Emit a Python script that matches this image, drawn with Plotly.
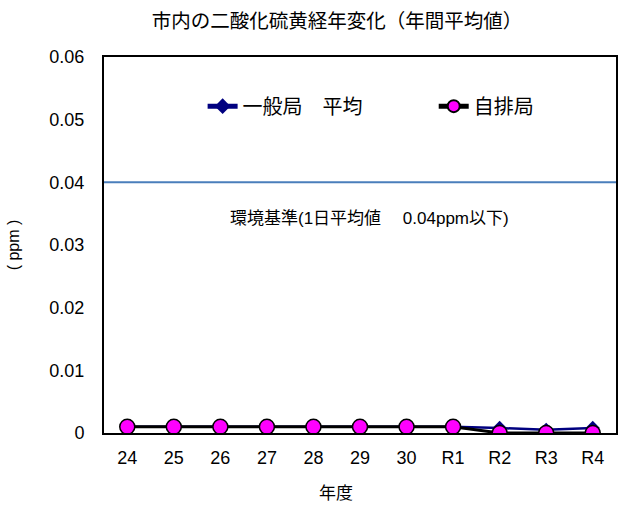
import plotly.graph_objects as go

# 年度ラベル
years = ["24", "25", "26", "27", "28", "29", "30", "R1", "R2", "R3", "R4"]
# 一般局 平均 (ppm)
general_avg = [0.001, 0.001, 0.001, 0.001, 0.001, 0.001, 0.001, 0.001, 0.0008, 0.0005, 0.0008]
# 自排局 (ppm)
roadside = [0.001, 0.001, 0.001, 0.001, 0.001, 0.001, 0.001, 0.001, 0.0, 0.0, 0.0]
# 環境基準
standard = 0.04

FONT = "Liberation Sans, Arial, Noto Sans CJK JP, sans-serif"

# plot area in pixels: x 104..618, y 58..433
PL, PW, PB, PH = 104, 514, 433, 375


def px_x(px):
    return (px - PL) / PW


def px_y(py):
    return (PB - py) / PH


fig = go.Figure()
fig.add_trace(go.Scatter(
    x=years, y=general_avg, name="一般局\u3000平均", mode="lines+markers",
    line=dict(color="#000080", width=2.5),
    marker=dict(symbol="diamond", size=11, color="#000080"),
    legend="legend",
))
fig.add_trace(go.Scatter(
    x=years, y=roadside, name="自排局", mode="lines+markers",
    line=dict(color="#000000", width=3),
    marker=dict(symbol="circle", size=15, color="#FF00FF",
                line=dict(color="#000000", width=1.5)),
    legend="legend2",
))

# 環境基準線
fig.add_shape(type="line", xref="paper", x0=0, x1=1, yref="y", y0=standard, y1=standard,
              line=dict(color="#4A7EBB", width=2), layer="below")

fig.add_annotation(x=px_x(371), xref="paper", y=0.0343, yref="y",
                   text="環境基準(1日平均値\u3000 0.04ppm以下)", showarrow=False,
                   font=dict(size=17, color="#000000", family=FONT))

# 横軸タイトル
fig.add_annotation(x=px_x(337), xref="paper", y=px_y(493), yref="paper",
                   text="年度", showarrow=False, yanchor="middle",
                   font=dict(size=17, color="#000000", family=FONT))

legend_common = dict(orientation="h", yanchor="middle", y=px_y(107),
                     xanchor="left", bgcolor="rgba(0,0,0,0)",
                     font=dict(size=20, family=FONT), itemsizing="constant")

fig.update_layout(
    width=621, height=513,
    margin=dict(l=PL, r=3, t=57, b=80),
    paper_bgcolor="white", plot_bgcolor="white",
    font=dict(family=FONT, color="#000000", size=18),
    title=dict(text="市内の二酸化硫黄経年変化（年間平均値）", x=337 / 621, xanchor="center",
               y=0.958, yanchor="middle", font=dict(size=19.5, family=FONT)),
    legend=dict(x=px_x(203), **legend_common),
    legend2=dict(x=px_x(435), **legend_common),
    showlegend=True,
)

fig.update_xaxes(
    type="category", range=[-0.5, 10.5], showgrid=False,
    showline=True, linecolor="#000000", linewidth=2, mirror=True,
    ticks="", tickfont=dict(size=18), ticklabelstandoff=7,
)
fig.update_yaxes(
    range=[0, 0.06], dtick=0.01, tickformat="~g", showgrid=False, zeroline=False,
    showline=True, linecolor="#000000", linewidth=2, mirror=True,
    ticks="", tickfont=dict(size=18), ticklabelstandoff=14,
    title=dict(text="(\u00a0ppm\u00a0)", font=dict(size=16), standoff=26),
)

fig.write_html("out.html")
